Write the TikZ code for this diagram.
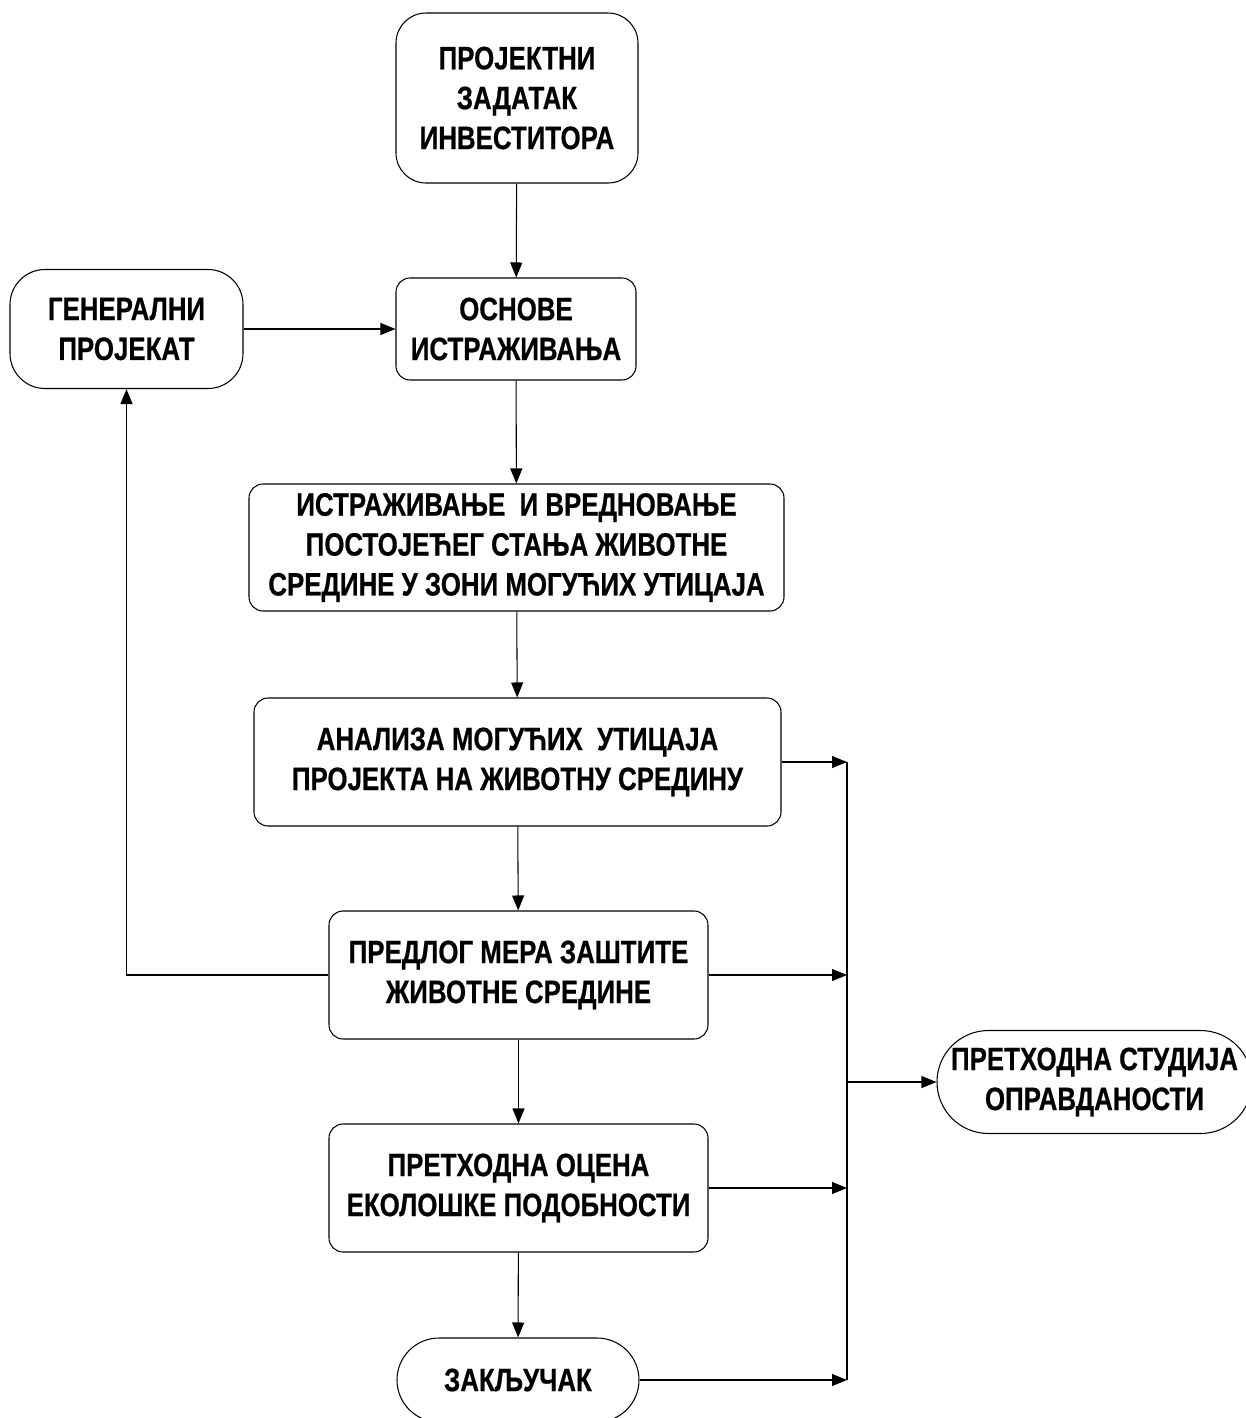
\documentclass[tikz,border=0pt]{standalone}
\usepackage{fontspec}
\setmainfont{Liberation Sans}[FakeStretch=0.8,FakeBold=0.6]
\usepackage{tikz}
\usetikzlibrary{arrows.meta,shapes}

\begin{document}
\begin{tikzpicture}[line width=0.6pt]
            \tikzstyle{block}=[draw,rounded corners=8pt,align=center,inner sep=0pt,
                font=\fontsize{18.4pt}{22.7pt}\selectfont\bfseries]
            \tikzstyle{arr}=[-{Triangle[length=0.3cm,width=0.24cm]}]
            \useasboundingbox (0,0) rectangle (24.92,-28.36);

            \node[block,rounded corners=0.6cm,minimum width=4.84cm,minimum height=3.4cm] (zadatak) at (10.34,-1.96) {ПРОЈЕКТНИ\\ЗАДАТАК\\ИНВЕСТИТОРА};
            \node[block,minimum width=4.8cm,minimum height=2.04cm] (osnove) at (10.32,-6.58) {ОСНОВЕ\\ИСТРАЖИВАЊА};
            \node[block,rounded corners=0.7cm,minimum width=4.66cm,minimum height=2.38cm] (generalni) at (2.53,-6.58) {ГЕНЕРАЛНИ\\ПРОЈЕКАТ};
            \node[block,minimum width=10.7cm,minimum height=2.54cm] (stanje) at (10.33,-10.95) {ИСТРАЖИВАЊЕ \ И ВРЕДНОВАЊЕ\\ПОСТОЈЕЋЕГ СТАЊА ЖИВОТНЕ\\СРЕДИНЕ У ЗОНИ МОГУЋИХ УТИЦАЈА};
            \node[block,minimum width=10.54cm,minimum height=2.56cm] (analiza) at (10.35,-15.24) {АНАЛИЗА МОГУЋИХ \ УТИЦАЈА\\ПРОЈЕКТА НА ЖИВОТНУ СРЕДИНУ};
            \node[block,minimum width=7.58cm,minimum height=2.56cm] (mere) at (10.37,-19.5) {ПРЕДЛОГ МЕРА ЗАШТИТЕ\\ЖИВОТНЕ СРЕДИНЕ};
            \node[block,minimum width=7.58cm,minimum height=2.56cm] (ocena) at (10.37,-23.76) {ПРЕТХОДНА ОЦЕНА\\ЕКОЛОШКЕ ПОДОБНОСТИ};
            \node[block,rounded corners=0.84cm,minimum width=4.84cm,minimum height=1.68cm] (zakljucak) at (10.36,-27.6) {ЗАКЉУЧАК};
            \node[block,rounded corners=1.03cm,minimum width=6.3cm,minimum height=2.06cm] (studija) at (21.89,-21.64) {ПРЕТХОДНА СТУДИЈА\\ОПРАВДАНОСТИ};

            \coordinate (bus) at (16.94,-15.24);
            \coordinate (busend) at (16.94,-27.6);
            \draw (bus) -- (busend);

            \foreach \from/\to in {zadatak/osnove, osnove/stanje, stanje/analiza, analiza/mere, mere/ocena, ocena/zakljucak}
              \draw[arr] (\from) -- (\to);
            \draw[arr] (generalni) -- (osnove);

            \foreach \from in {analiza, mere, ocena, zakljucak}
              \draw[arr] (\from.east) -- (\from.east -| bus);
            \draw[arr] (studija.west -| bus) -- (studija.west);

            \draw[arr] (mere.west) -| (generalni.south);
        \end{tikzpicture}
\end{document}
